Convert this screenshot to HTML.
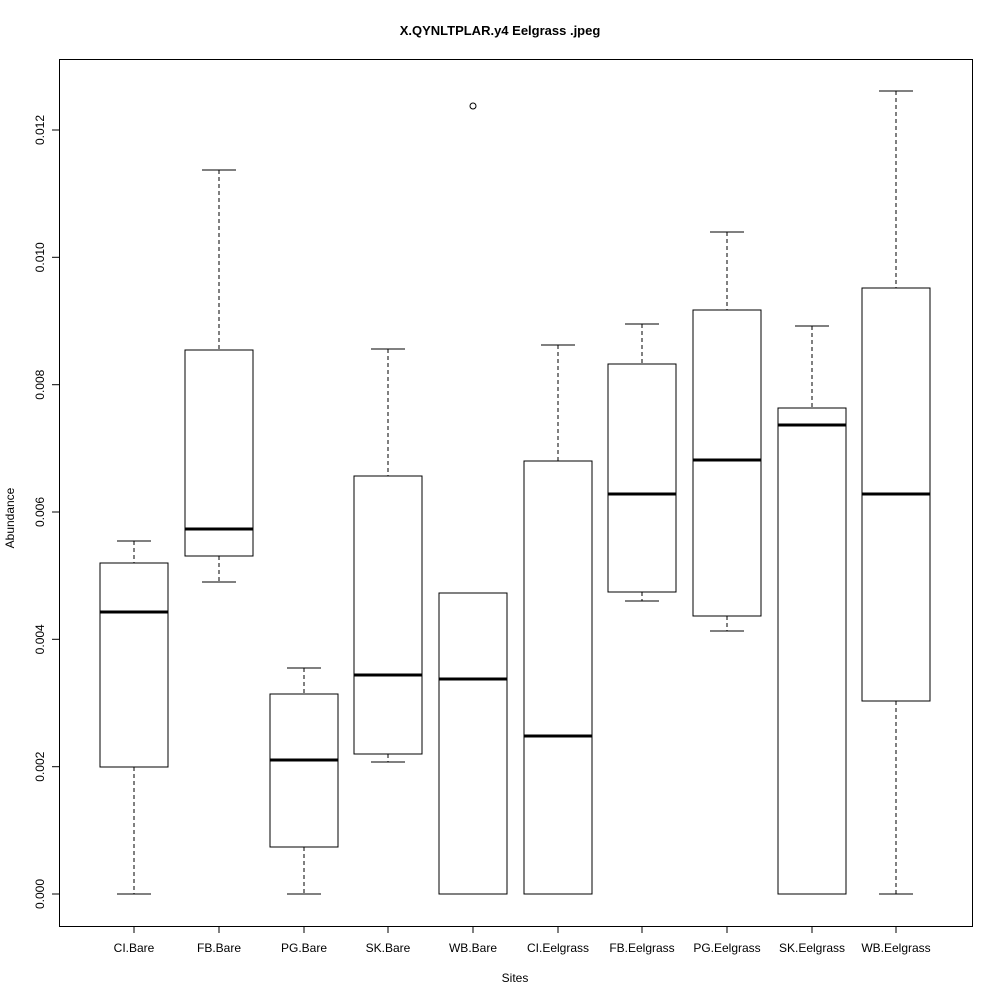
<!DOCTYPE html>
<html><head><meta charset="utf-8"><style>html,body{margin:0;padding:0;background:#fff}</style></head>
<body>
<svg width="1000" height="1000" xmlns="http://www.w3.org/2000/svg" font-family="Liberation Sans, Arial, sans-serif">
<rect width="1000" height="1000" fill="#fff"/>
<text x="500" y="35" text-anchor="middle" font-size="13" font-weight="bold">X.QYNLTPLAR.y4 Eelgrass .jpeg</text>
<rect x="59.5" y="59.5" width="913" height="867" fill="none" stroke="#000"/>
<g stroke="#000" fill="none">
<line x1="59.5" y1="894" x2="59.5" y2="130"/>
<line x1="52" y1="894" x2="59.5" y2="894"/>
<line x1="52" y1="766.7" x2="59.5" y2="766.7"/>
<line x1="52" y1="639.3" x2="59.5" y2="639.3"/>
<line x1="52" y1="512" x2="59.5" y2="512"/>
<line x1="52" y1="384.7" x2="59.5" y2="384.7"/>
<line x1="52" y1="257.3" x2="59.5" y2="257.3"/>
<line x1="52" y1="130" x2="59.5" y2="130"/>
<line x1="134" y1="926.5" x2="896" y2="926.5"/>
</g>
<g font-size="12" text-anchor="middle">
<text transform="translate(44,894) rotate(-90)">0.000</text>
<text transform="translate(44,766.7) rotate(-90)">0.002</text>
<text transform="translate(44,639.3) rotate(-90)">0.004</text>
<text transform="translate(44,512) rotate(-90)">0.006</text>
<text transform="translate(44,384.7) rotate(-90)">0.008</text>
<text transform="translate(44,257.3) rotate(-90)">0.010</text>
<text transform="translate(44,130) rotate(-90)">0.012</text>
<text transform="translate(14,518) rotate(-90)">Abundance</text>
<text x="515" y="982">Sites</text>
<text x="134" y="952">CI.Bare</text>
<text x="219" y="952">FB.Bare</text>
<text x="304" y="952">PG.Bare</text>
<text x="388" y="952">SK.Bare</text>
<text x="473" y="952">WB.Bare</text>
<text x="558" y="952">CI.Eelgrass</text>
<text x="642" y="952">FB.Eelgrass</text>
<text x="727" y="952">PG.Eelgrass</text>
<text x="812" y="952">SK.Eelgrass</text>
<text x="896" y="952">WB.Eelgrass</text>
</g>
<g stroke="#000" fill="none">
<path d="M134 926v7M219 926v7M304 926v7M388 926v7M473 926v7M558 926v7M642 926v7M727 926v7M812 926v7M896 926v7"/>
<g stroke-dasharray="4,3">
<path d="M134 541V563M134 767V894"/>
<path d="M219 170V350M219 556V582"/>
<path d="M304 668V694M304 847V894"/>
<path d="M388 349V476M388 754V762"/>
<path d="M558 345V461"/>
<path d="M642 324V364M642 592V601"/>
<path d="M727 232V310M727 616V631"/>
<path d="M812 326V408"/>
<path d="M896 91V288M896 701V894"/>
</g>
<path d="M117 541h34M117 894h34M202 170h34M202 582h34M287 668h34M287 894h34M371 349h34M371 762h34M456 593h34M456 894h34M541 345h34M541 894h34M625 324h34M625 601h34M710 232h34M710 631h34M795 326h34M795 894h34M879 91h34M879 894h34"/>
<rect x="100" y="563" width="68" height="204"/>
<rect x="185" y="350" width="68" height="206"/>
<rect x="270" y="694" width="68" height="153"/>
<rect x="354" y="476" width="68" height="278"/>
<rect x="439" y="593" width="68" height="301"/>
<rect x="524" y="461" width="68" height="433"/>
<rect x="608" y="364" width="68" height="228"/>
<rect x="693" y="310" width="68" height="306"/>
<rect x="778" y="408" width="68" height="486"/>
<rect x="862" y="288" width="68" height="413"/>
<g stroke-width="3">
<path d="M100 612h68M185 529h68M270 760h68M354 675h68M439 679h68M524 736h68M608 494h68M693 460h68M778 425h68M862 494h68"/>
</g>
<circle cx="473" cy="106" r="3"/>
</g>
</svg>
</body></html>
